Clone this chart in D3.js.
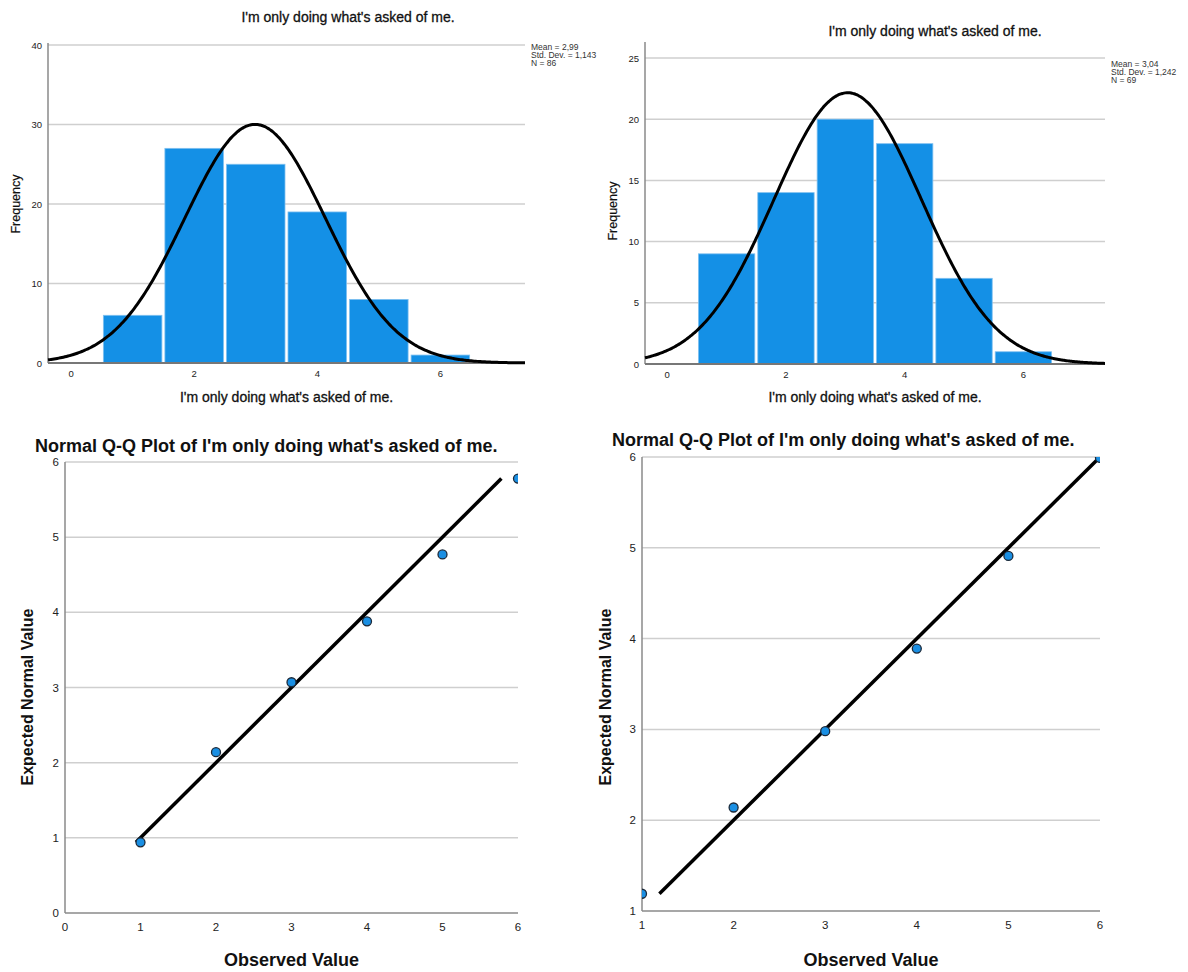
<!DOCTYPE html>
<html>
<head>
<meta charset="utf-8">
<script src="https://cdn.jsdelivr.net/npm/d3@7"></script>
<style>
  body { margin: 0; background: #fff; }
  svg { display: block; font-family: "Liberation Sans", Arial, sans-serif; }
</style>
</head>
<body>
<svg id="chart" width="1188" height="972"></svg>
<script>
// Response categories (scale points 1..6)
const categories = [1, 2, 3, 4, 5, 6];

// Histogram frequencies for the two groups
const freqA = [6, 27, 25, 19, 8, 1];
const freqB = [9, 14, 20, 18, 7, 1];

// Summary statistics shown beside each histogram
const meanA = 2.99, sdA = 1.143, nA = 86;
const meanB = 3.04, sdB = 1.242, nB = 69;
const statsLabelsA = ["Mean = 2,99", "Std. Dev. = 1,143", "N = 86"];
const statsLabelsB = ["Mean = 3,04", "Std. Dev. = 1,242", "N = 69"];

// Expected normal values for the Q-Q plots
const expectedA = [0.94, 2.14, 3.07, 3.88, 4.77, 5.78];
const expectedB = [1.19, 2.14, 2.98, 3.89, 4.91, 5.99];

// Tick labels
const histTicksX = [0, 2, 4, 6];
const histTicksYA = [0, 10, 20, 30, 40];
const histTicksYB = [0, 5, 10, 15, 20, 25];
const qqTicksA = [0, 1, 2, 3, 4, 5, 6];
const qqTicksB = [1, 2, 3, 4, 5, 6];

const itemLabel = "I'm only doing what's asked of me.";
const qqTitle = "Normal Q-Q Plot of I'm only doing what's asked of me.";

const svg = d3.select("#chart");
const BAR = "#1490e6";
const GRID = "#cfcfcf";
const AXIS = "#8a8a8a";
const TXT = "#222";

function histogram(cfg) {
  const x = d3.scaleLinear().domain([-0.375, 7.375]).range([cfg.left, cfg.right]);
  const y = d3.scaleLinear().domain([0, cfg.ymax]).range([cfg.bottom, cfg.top]);
  const g = svg.append("g");

  // horizontal grid
  g.append("g").selectAll("line").data(cfg.yticks.filter(d => d > 0)).join("line")
    .attr("x1", cfg.left).attr("x2", cfg.right)
    .attr("y1", d => y(d)).attr("y2", d => y(d))
    .attr("stroke", GRID).attr("stroke-width", 1.5);

  // bars
  g.append("g").selectAll("rect").data(categories).join("rect")
    .attr("x", d => x(d - 0.5) + 1.5)
    .attr("width", d => x(d + 0.5) - x(d - 0.5) - 3)
    .attr("y", (d, i) => y(cfg.freq[i]))
    .attr("height", (d, i) => y(0) - y(cfg.freq[i]))
    .attr("fill", BAR).attr("stroke", "#7fc0f0").attr("stroke-width", 0.8);

  // axes lines
  g.append("line").attr("x1", cfg.left).attr("x2", cfg.left)
    .attr("y1", y(0)).attr("y2", y(cfg.axisTop))
    .attr("stroke", AXIS).attr("stroke-width", 1.5);
  g.append("line").attr("x1", cfg.left).attr("x2", cfg.right)
    .attr("y1", y(0)).attr("y2", y(0))
    .attr("stroke", "#777").attr("stroke-width", 2);

  // normal curve fitted with the stated mean, sd and N (bin width 1)
  const xs = d3.range(-0.375, 7.3751, 0.025);
  const dens = v => cfg.n / (cfg.sd * Math.sqrt(2 * Math.PI)) *
    Math.exp(-0.5 * Math.pow((v - cfg.mean) / cfg.sd, 2));
  g.append("path").datum(xs)
    .attr("d", d3.line().x(v => x(v)).y(v => y(dens(v))).curve(d3.curveBasis))
    .attr("fill", "none").attr("stroke", "#000").attr("stroke-width", 3);

  // tick labels
  g.append("g").selectAll("text").data(cfg.yticks).join("text")
    .attr("x", cfg.left - 6).attr("y", d => y(d) + 3.5)
    .attr("text-anchor", "end").attr("font-size", 9.5).attr("fill", TXT)
    .text(d => d);
  g.append("g").selectAll("text").data(histTicksX).join("text")
    .attr("x", d => x(d)).attr("y", y(0) + 14)
    .attr("text-anchor", "middle").attr("font-size", 9.5).attr("fill", TXT)
    .text(d => d);

  // titles
  g.append("text").attr("x", cfg.titleX).attr("y", cfg.titleY)
    .attr("text-anchor", "middle").attr("font-size", 14).attr("fill", "#111")
    .attr("stroke", "#111").attr("stroke-width", 0.3)
    .text(itemLabel);
  g.append("text").attr("x", (cfg.left + cfg.right) / 2).attr("y", 402)
    .attr("text-anchor", "middle").attr("font-size", 14).attr("fill", "#111")
    .attr("stroke", "#111").attr("stroke-width", 0.3)
    .text(itemLabel);
  g.append("text")
    .attr("transform", `translate(${cfg.ylabX},${(cfg.top + cfg.bottom) / 2}) rotate(-90)`)
    .attr("text-anchor", "middle").attr("font-size", 12.5).attr("fill", "#111")
    .attr("stroke", "#111").attr("stroke-width", 0.2)
    .text("Frequency");

  // statistics box
  g.append("g").selectAll("text").data(cfg.stats).join("text")
    .attr("x", cfg.right + 6).attr("y", (d, i) => cfg.statsY + i * 8)
    .attr("font-size", 8.5).attr("fill", "#333")
    .text(d => d);
}

function qqPlot(cfg) {
  const x = d3.scaleLinear().domain(cfg.domain).range([cfg.left, cfg.right]);
  const y = d3.scaleLinear().domain(cfg.domain).range([cfg.bottom, cfg.top]);
  const g = svg.append("g");
  const clipId = "clip" + cfg.id;
  svg.append("clipPath").attr("id", clipId).append("rect")
    .attr("x", cfg.left).attr("y", cfg.top)
    .attr("width", cfg.right - cfg.left).attr("height", cfg.bottom - cfg.top);

  g.append("g").selectAll("line").data(cfg.ticks.filter(d => d > cfg.domain[0])).join("line")
    .attr("x1", cfg.left).attr("x2", cfg.right)
    .attr("y1", d => y(d)).attr("y2", d => y(d))
    .attr("stroke", GRID).attr("stroke-width", 1.5);

  g.append("line").attr("x1", cfg.left).attr("x2", cfg.left)
    .attr("y1", cfg.bottom).attr("y2", cfg.top)
    .attr("stroke", AXIS).attr("stroke-width", 1.5);
  g.append("line").attr("x1", cfg.left).attr("x2", cfg.right)
    .attr("y1", cfg.bottom).attr("y2", cfg.bottom)
    .attr("stroke", AXIS).attr("stroke-width", 1.5);

  const plot = g.append("g").attr("clip-path", `url(#${clipId})`);
  // reference line y = x across the range of expected values
  plot.append("line")
    .attr("x1", x(cfg.lineRange[0])).attr("y1", y(cfg.lineRange[0]))
    .attr("x2", x(cfg.lineRange[1])).attr("y2", y(cfg.lineRange[1]))
    .attr("stroke", "#000").attr("stroke-width", 3.5);
  plot.selectAll("circle").data(categories).join("circle")
    .attr("cx", d => x(d)).attr("cy", (d, i) => y(cfg.expected[i]))
    .attr("r", 4.5).attr("fill", "#1a8fe3")
    .attr("stroke", "#1c2a3a").attr("stroke-width", 1.3);

  g.append("g").selectAll("text").data(cfg.ticks).join("text")
    .attr("x", cfg.left - 6).attr("y", d => y(d) + 4)
    .attr("text-anchor", "end").attr("font-size", 11.5).attr("fill", TXT)
    .text(d => d);
  g.append("g").selectAll("text").data(cfg.ticks).join("text")
    .attr("x", d => x(d)).attr("y", cfg.bottom + 18)
    .attr("text-anchor", "middle").attr("font-size", 11.5).attr("fill", TXT)
    .text(d => d);

  g.append("text").attr("x", cfg.titleX).attr("y", cfg.titleY)
    .attr("font-size", 18).attr("font-weight", "bold").attr("fill", "#111")
    .text(qqTitle);
  g.append("text").attr("x", (cfg.left + cfg.right) / 2).attr("y", 966)
    .attr("text-anchor", "middle").attr("font-size", 18).attr("font-weight", "bold").attr("fill", "#111")
    .text("Observed Value");
  g.append("text")
    .attr("transform", `translate(${cfg.ylabX},697) rotate(-90)`)
    .attr("text-anchor", "middle").attr("font-size", 16).attr("font-weight", "bold").attr("fill", "#111")
    .text("Expected Normal Value");
}

histogram({ freq: freqA, mean: meanA, sd: sdA, n: nA, stats: statsLabelsA,
  left: 48, right: 525, top: 45, bottom: 363, ymax: 40, axisTop: 40.25,
  yticks: histTicksYA, titleX: 348, titleY: 22, ylabX: 20, statsY: 50 });
histogram({ freq: freqB, mean: meanB, sd: sdB, n: nB, stats: statsLabelsB,
  left: 645, right: 1105, top: 58, bottom: 364, ymax: 25, axisTop: 26.3,
  yticks: histTicksYB, titleX: 935, titleY: 36, ylabX: 617, statsY: 67 });

qqPlot({ id: "A", expected: expectedA, domain: [0, 6], ticks: qqTicksA, lineRange: [0.94, 5.78],
  left: 65, right: 518, top: 462, bottom: 913, titleX: 35, titleY: 452, ylabX: 33 });
qqPlot({ id: "B", expected: expectedB, domain: [1, 6], ticks: qqTicksB, lineRange: [1.19, 5.99],
  left: 642, right: 1100, top: 457, bottom: 911, titleX: 612, titleY: 446, ylabX: 611 });
</script>
</body>
</html>
